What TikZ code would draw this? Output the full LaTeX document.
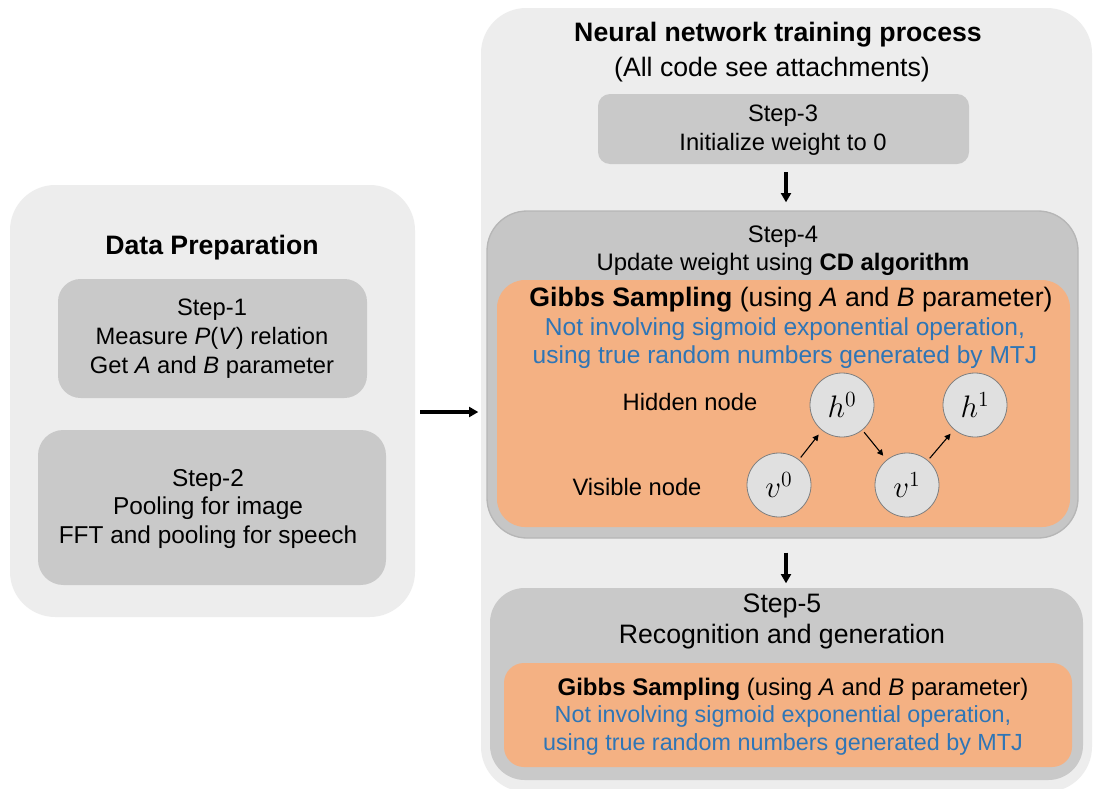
\documentclass[tikz,border=0pt]{standalone}
\usepackage{graphicx}
\usepackage{fontspec}
\setmainfont{Liberation Sans}
\usetikzlibrary{arrows.meta,fit}

\definecolor{panelgray}{HTML}{EDEDED}
\definecolor{boxgray}{HTML}{C9C9C9}
\definecolor{stepfourgray}{HTML}{C6C6C6}
\definecolor{gibbsorange}{HTML}{F4B183}
\definecolor{noteblue}{HTML}{2E75B6}
\definecolor{circlefill}{HTML}{E0E0E0}
\definecolor{circleline}{HTML}{7F7F7F}

% enlarged math label for the sampling units
\newcommand{\unitlabel}[2]{\scalebox{1.35}{$#1^{#2}$}}

\tikzset{
  area/.style={inner sep=0pt, outer sep=0pt},
  panel/.style={area, fill=panelgray, rounded corners=34pt},
  stepbox/.style={area, fill=boxgray},
  gibbsbox/.style={area, fill=gibbsorange},
  txt/.style={inner sep=0pt, align=center, font=\fontsize{17.8}{21.75}\selectfont},
  bigtxt/.style={inner sep=0pt, align=center, font=\fontsize{20}{23.25}\selectfont},
  bluetxt/.style={txt, text=noteblue},
  unit/.style={circle, draw=circleline, line width=0.6pt, fill=circlefill,
    minimum size=48pt, inner sep=0pt, font=\fontsize{17.28}{20}\selectfont},
  flow/.style={line width=2.3pt, -{Triangle[length=7pt,width=7.5pt]}},
  gibbsflow/.style={line width=0.8pt, -{Triangle[length=4.5pt,width=4.5pt]},
    shorten <=2pt, shorten >=4pt}
}

\begin{document}
\begin{tikzpicture}[x=0.75pt, y=-0.75pt]
\useasboundingbox (0,0) rectangle (1093,789);
\fill[white] (0,0) rectangle (1093,789);

% ---------- data preparation ----------
\node[panel, fit={(10,185) (415,617)}] (leftpanel) {};
\node[stepbox, rounded corners=17pt, fit={(58,279) (367,398)}] (step1) {};
\node[stepbox, rounded corners=19pt, fit={(38,430) (386,585)}] (step2) {};

\node[bigtxt, font=\fontsize{20}{23}\bfseries] (dptitle) at (212,248) {Data Preparation};
\node[txt] (step1txt) at (212,339)
  {Step-1\\Measure \textit{P}(\textit{V}) relation\\Get \textit{A} and \textit{B} parameter};
\node[txt, font=\fontsize{18.3}{21.5}\selectfont] (step2txt) at (208,509)
  {Step-2\\Pooling for image\\FFT and pooling for speech};

% ---------- training process ----------
\node[panel, fit={(481,8) (1092,792)}] (rightpanel) {};
\node[bigtxt, font=\fontsize{20}{23}\bfseries] (nntitle) at (778,35) {Neural network training process};
\node[bigtxt] (nnsub) at (772,70) {(All code see attachments)};

\node[stepbox, rounded corners=9pt, fit={(598,94) (969,164)}] (step3) {};
\node[txt] (step3txt) at (783,130) {Step-3\\Initialize weight to 0};

\node[area, fill=stepfourgray, draw=stepfourgray!92!black, line width=1pt,
  rounded corners=30pt, fit={(487,211) (1078,538)}] (step4) {};
\node[txt, font=\fontsize{17.9}{21}\selectfont] (step4txt) at (783,251)
  {Step-4\\Update weight using \textbf{CD algorithm}};
\node[gibbsbox, rounded corners=21pt, fit={(497,280) (1070,527)}] (gibbs1) {};
\node[bigtxt] (gibbs1txt) at (791,300)
  {\textbf{Gibbs Sampling} (using \textit{A} and \textit{B} parameter)};
\node[bluetxt, font=\fontsize{18.4}{21}\selectfont] (gibbs1note) at (785,343)
  {Not involving sigmoid exponential operation,\\using true random numbers generated by MTJ};

\node[txt] (hiddenlbl) at (690,402) {Hidden node};
\node[txt] (visiblelbl) at (637,487) {Visible node};
\node[unit] (h0) at (842,405) {\unitlabel{h}{0}};
\node[unit] (h1) at (975,405) {\unitlabel{h}{1}};
\node[unit] (v0) at (779,485) {\unitlabel{v}{0}};
\node[unit] (v1) at (907,485) {\unitlabel{v}{1}};
\draw[gibbsflow] (v0) -- (h0);
\draw[gibbsflow] (h0) -- (v1);
\draw[gibbsflow] (v1) -- (h1);

\node[stepbox, rounded corners=26pt, fit={(490,588) (1083,780)}] (step5) {};
\node[bigtxt, font=\fontsize{20}{23.25}\selectfont] (step5txt) at (782,621)
  {Step-5\\Recognition and generation};
\node[gibbsbox, rounded corners=15pt, fit={(504,663) (1072,767)}] (gibbs2) {};
\node[txt, font=\fontsize{18}{21}\selectfont] (gibbs2txt) at (793,689)
  {\textbf{Gibbs Sampling} (using \textit{A} and \textit{B} parameter)};
\node[bluetxt, font=\fontsize{17.5}{21}\selectfont] (gibbs2note) at (783,730)
  {Not involving sigmoid exponential operation,\\using true random numbers generated by MTJ};

% ---------- flow arrows ----------
\coordinate (leftout) at ([yshift=-8.25pt]leftpanel.east);
\draw[flow, shorten <=3.75pt, shorten >=2pt] (leftout) -- (leftout -| rightpanel.west);
\draw[flow, shorten <=6pt, shorten >=6.5pt] (step3.south -| 786,0) -- (step4.north -| 786,0);
\draw[flow, shorten <=11pt, shorten >=3.5pt] (step4.south -| 786,0) -- (step5.north -| 786,0);
\end{tikzpicture}
\end{document}
